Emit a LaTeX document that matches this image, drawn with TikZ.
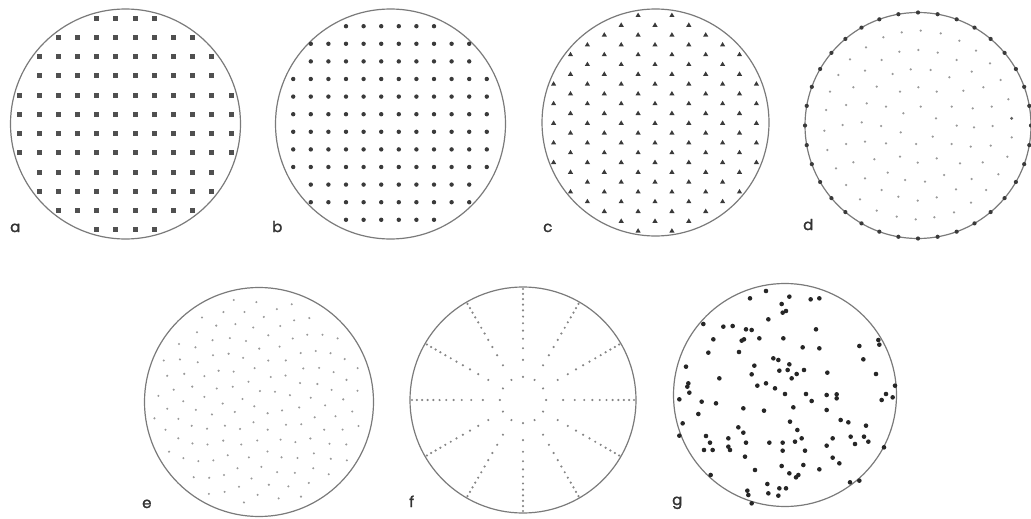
\documentclass[tikz,border=0pt]{standalone}
\usepackage{fontspec}
\setmainfont{Poppins}
\newfontfamily\lblfont[FakeBold=1.6]{Poppins}
\definecolor{rim}{HTML}{7A7A7A}
\definecolor{darkdot}{HTML}{3A3A3A}
\definecolor{sqdot}{HTML}{505050}
\definecolor{lightdot}{HTML}{9A9A9A}
\definecolor{labelcol}{HTML}{333333}
\tikzset{
  rimline/.style={draw=rim, line width=1.2pt},
  lbl/.style={anchor=base west, inner sep=0pt, text=labelcol, font=\lblfont\fontsize{15}{15}\selectfont},
}
\begin{document}
\begin{tikzpicture}[x=1pt,y=-1pt]
\useasboundingbox (0,0) rectangle (1031,519);
% ---------- a : square grid of squares
\draw[rimline] (125.5,124) circle[radius=115pt];
\foreach \i in {-5.5,-4.5,...,5.5}{
  \foreach \j in {-5.5,-4.5,...,5.5}{
    \pgfmathsetmacro\rr{veclen(\i*19.2,\j*19.2)}
    \ifdim\rr pt<112pt
      \fill[sqdot] ({125.5+\i*19.2-2.5},{124+\j*19.2-2.5}) rectangle ++(5,5);
    \fi
  }
}
\node[lbl] (la) at (10,232) {a};
% ---------- b : square grid of dots
\draw[rimline] (390.5,124) circle[radius=115pt];
\foreach \i in {-5.5,-4.5,...,5.5}{
  \foreach \j in {-5.5,-4.5,...,5.5}{
    \pgfmathsetmacro\rr{veclen(\i*17.6,\j*17.6)}
    \ifdim\rr pt<113pt
      \fill[darkdot] ({390+\i*17.6},{123+\j*17.6}) circle[radius=2.2pt];
    \fi
  }
}
\node[lbl] (lb) at (272,232) {b};
% ---------- c : hexagonal lattice of triangles
\draw[rimline] (655.5,122.5) circle[radius=113.5pt];
\foreach \c in {-6,...,6}{
  \foreach \k in {-6,...,6}{
    \pgfmathsetmacro\xx{\c*16.9}
    \pgfmathsetmacro\yy{\k*19.6+9.8*mod(abs(\c),2)}
    \pgfmathsetmacro\rr{veclen(\xx,\yy)}
    \ifdim\rr pt<112pt
      \fill[darkdot] ({655+\xx},{123+\yy-2.6}) -- ({655+\xx-2.6},{123+\yy+1.8}) -- ({655+\xx+2.6},{123+\yy+1.8}) -- cycle;
    \fi
  }
}
\node[lbl] (lc) at (543,232) {c};
% ---------- d : rim points and interior points
\draw[rimline] (918,125.5) circle[radius=113pt];
\foreach \a in {0,10,...,350}{
  \fill[darkdot] ({918+113*cos(\a)},{125.5+113*sin(\a)}) circle[radius=2.1pt];
}
\foreach \x/\y in {395/97,452/92,512/100,340/112,568/122,288/142,388/155,445/150,503/158,618/152,
  240/178,335/180,560/180,660/190,285/212,368/222,422/208,482/210,538/232,605/215,
  205/225,692/240,180/275,250/262,320/260,390/275,445/262,500/275,580/272,640/262,
  715/298,168/330,228/315,290/310,348/320,400/340,452/320,545/320,608/325,665/320,
  163/392,218/375,275/367,333/378,392/397,498/355,560/377,612/382,668/378,725/412,
  172/450,228/432,285/425,348/430,438/432,488/410,545/432,602/440,662/437,712/470,
  198/505,250/487,313/478,390/470,443/488,500/475,570/490,638/487,685/523,228/555,
  285/535,353/518,405/540,465/545,522/525,605/537,648/570,270/598,335/570,385/590,
  443/602,500/592,558/568,603/608,320/632,380/650,437/658,493/652,552/637}{
  \fill[lightdot] ({770+\x/3},{\y/3}) circle[radius=1.25pt];
}
\fill[darkdot!80] ({770+725/3},{355/3}) circle[radius=1.6pt];
\node[lbl] (ld) at (803,230) {d};
% ---------- e : spiral (sunflower) points
\draw[rimline] (259,402) circle[radius=114.5pt];
\foreach \k in {1,...,140}{
  \pgfmathsetmacro\rr{106*sqrt((\k-0.5)/140)}
  \pgfmathsetmacro\th{10*mod(\k*13.7508,36)}
  \fill[lightdot] ({259+\rr*cos(\th)},{402+\rr*sin(\th)}) circle[radius=1.15pt];
}
\node[lbl] (le) at (142,508) {e};
% ---------- f : radial spokes
\draw[rimline] (523,400) circle[radius=113pt];
\foreach \a in {0,30,...,330}{
  \foreach \m in {1,...,12}{
    \pgfmathsetmacro\rr{111*sqrt((\m-0.5)/11.5)}
    \fill[lightdot!120] ({523+\rr*cos(\a)},{400+\rr*sin(\a)}) circle[radius=1.2pt];
  }
}
\node[lbl] (lf) at (409,507) {f};
% ---------- g : random points
\draw[rimline] (785,395) circle[radius=111.5pt];
\foreach \x/\y in {318/63,270/85,388/80,452/88,478/85,365/102,368/128,378/123,325/148,130/162,
  190/170,218/168,258/178,275/180,468/178,160/208,245/212,252/208,298/205,370/205,
  655/210,658/224,428/232,478/235,598/228,145/248,237/246,340/265,355/270,388/283,
  283/287,610/268,78/290,275/313,358/302,383/300,410/312,432/300,395/325,502/308,
  648/312,178/325,85/340,82/350,292/347,318/340,345/355,88/368,375/372,438/372,
  500/375,530/373,530/385,705/347,678/372,698/382,665/390,58/388,125/395,168/400,
  455/393,250/415,312/422,400/412,500/420,115/432,68/460,390/455,542/450,565/457,
  618/467,235/472,250/488,412/480,58/497,138/498,205/505,150/518,258/518,328/518,
  368/518,405/515,425/505,518/505,572/500,612/500,625/515,585/522,500/527,205/530,
  210/540,132/540,158/540,368/542,435/542,255/560,518/563,538/580,672/532,285/600,
  365/588,430/585,478/598,388/610,408/622,415/615,152/615,570/637,598/632,322/642,
  358/655,378/655,325/670,355/677,262/662,265/675,275/700}{
  \fill[darkdot!110] ({660+\x/3},{270+\y/3}) circle[radius=2.3pt];
}
\node[lbl] (lg) at (672,505) {g};
\end{tikzpicture}
\end{document}
